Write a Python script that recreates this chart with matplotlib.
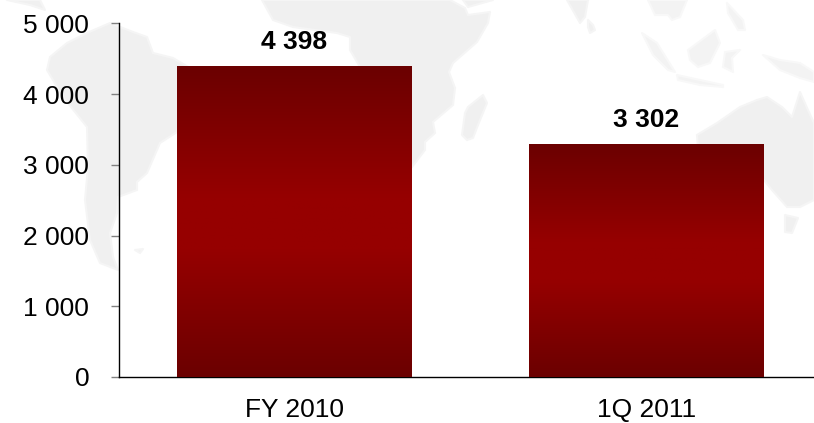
import numpy as np
import matplotlib.pyplot as plt
from matplotlib.colors import LinearSegmentedColormap
from matplotlib.patches import Polygon

categories = ["FY 2010", "1Q 2011"]
values = [4398, 3302]
y_ticks = [0, 1000, 2000, 3000, 4000, 5000]

W, H = 814, 423

# background world map, rough outlines in pixel coordinates
map_shapes = [
    # south america
    [(110, 23), (133, 32), (147, 37), (153, 53), (173, 58), (190, 68), (177, 132), (160, 143),
     (147, 173), (137, 182), (137, 190), (118, 197), (117, 213), (110, 233), (113, 257), (118, 270),
     (100, 263), (90, 240), (85, 200), (88, 167), (87, 127), (63, 97), (47, 70), (50, 57), (67, 43), (87, 33)],
    [(7, 0), (40, 0), (45, 10), (30, 5)],
    [(135, 250), (143, 249), (140, 253)],
    # africa
    [(262, 0), (273, 20), (293, 27), (337, 33), (350, 37), (350, 50), (360, 67), (400, 170), (412, 167),
     (425, 150), (425, 142), (435, 133), (433, 122), (453, 105), (455, 88), (449, 72), (453, 63), (477, 42),
     (488, 23), (490, 12), (468, 15), (465, 8), (450, 0)],
    [(463, 0), (468, 7), (493, 0)],
    # madagascar
    [(483, 95), (487, 103), (478, 125), (473, 138), (467, 140), (462, 135), (465, 113), (468, 107)],
    # india, sri lanka
    [(567, 0), (580, 23), (585, 17), (588, 0)],
    [(588, 20), (593, 25), (595, 30), (590, 33), (588, 27)],
    # australia, tasmania
    [(697, 135), (717, 123), (740, 107), (757, 100), (767, 97), (782, 107), (792, 117), (800, 92), (808, 110),
     (814, 123), (814, 200), (800, 207), (787, 207), (772, 190), (760, 175), (700, 175)],
    [(785, 215), (798, 218), (792, 233), (785, 232)],
]

# the islands are fainter in the reference
faint_shapes = [
    [(648, 0), (655, 15), (668, 15), (672, 20), (680, 17), (687, 0)],
    [(642, 33), (657, 43), (675, 72), (668, 70), (653, 55)],
    [(677, 75), (700, 80), (723, 85), (723, 87), (700, 85), (678, 80)],
    [(688, 50), (715, 30), (720, 43), (710, 63), (698, 67), (690, 60)],
    [(725, 52), (740, 50), (732, 58), (733, 72), (723, 67)],
    [(727, 3), (743, 20), (745, 30), (738, 30), (728, 13)],
    [(763, 55), (780, 60), (800, 63), (814, 72), (814, 82), (800, 78), (780, 70)],
]

plt.rcParams["font.family"] = "Liberation Sans"

fig = plt.figure(figsize=(W / 100, H / 100), dpi=100)

bg = fig.add_axes([0, 0, 1, 1])
bg.set_xlim(0, W)
bg.set_ylim(H, 0)
bg.axis("off")
for shape in map_shapes:
    bg.add_patch(Polygon(shape, closed=True, facecolor="#f0f0f0", edgecolor="#f5f5f5", linewidth=1.5,
                         joinstyle="round"))
for shape in faint_shapes:
    bg.add_patch(Polygon(shape, closed=True, facecolor="#f3f3f3", edgecolor="#f8f8f8", linewidth=1.5,
                         joinstyle="round"))

# axes box: x 118.5 -> right edge, y 377 -> 23.5 px
ax = fig.add_axes([118.5 / W, 1 - 377 / H, (W - 118.5) / W, (377 - 23.5) / H])
ax.patch.set_alpha(0)

x = np.arange(len(categories))
bars = ax.bar(x, values, width=0.665, color="#960000")

cmap = LinearSegmentedColormap.from_list(
    "bar", [(0, "#6b0000"), (0.42, "#960000"), (0.59, "#960000"), (1, "#6b0000")])
grad = np.linspace(0, 1, 256).reshape(-1, 1)
for bar in bars:
    x0, w, h = bar.get_x(), bar.get_width(), bar.get_height()
    im = ax.imshow(grad, cmap=cmap, extent=[x0, x0 + w, 0, h], aspect="auto", origin="upper", zorder=3)
    im.set_clip_path(bar)
    bar.set_visible(False)

for xi, v in zip(x, values):
    ax.annotate(f"{v:,}".replace(",", " "), (xi, v), xytext=(0, 8.5), textcoords="offset points",
                ha="center", va="bottom", fontsize=19, fontweight="bold", color="black")

ax.set_xlim(-0.5, (W - 294.5) / 352)
ax.set_ylim(0, 5000)
ax.set_xticks(x)
ax.set_xticklabels(categories)
ax.set_yticks(y_ticks)
ax.set_yticklabels([f"{t:,}".replace(",", " ") for t in y_ticks])

ax.tick_params(axis="x", length=0, pad=15, labelsize=19, labelcolor="black")
ax.tick_params(axis="y", length=6, width=1, color="#808080", pad=15, labelsize=19, labelcolor="black")
ax.spines["top"].set_visible(False)
ax.spines["right"].set_visible(False)
ax.spines["left"].set_linewidth(1)
ax.spines["bottom"].set_linewidth(1)

fig.savefig("out.png", dpi=100)
